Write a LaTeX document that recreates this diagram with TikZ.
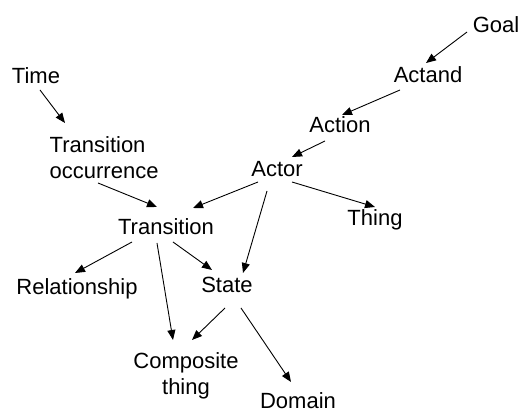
\documentclass[tikz,border=0pt]{standalone}
\usepackage{fontspec}
\setmainfont{Liberation Sans}
\usetikzlibrary{arrows.meta,calc}
\begin{document}
\begin{tikzpicture}[x=1pt,y=-1pt,
  lbl/.style={inner sep=0pt, font=\fontsize{22}{26}\selectfont},
  arr/.style={draw=black, line width=0.9pt, -{Triangle[length=10pt,width=8pt]}}]
\useasboundingbox (0,0) rectangle (520,411);
% nodes
\node[lbl,anchor=base] (goal)   at (496,33)  {Goal};
\node[lbl,anchor=base] (actand) at (428,83)  {Actand};
\node[lbl,anchor=base] (action) at (340,133) {Action};
\node[lbl,anchor=base] (actor)  at (277,177) {Actor};
\node[lbl,anchor=base] (thing)  at (375,226) {Thing};
\node[lbl,anchor=base] (time)   at (36,84)   {Time};
\node[lbl,anchor=north west,align=left] (tocc) at (49.5,136.3) {Transition\\occurrence};
\node[lbl,anchor=base] (tr)     at (166,235) {Transition};
\node[lbl,anchor=base] (rel)    at (77,295)  {Relationship};
\node[lbl,anchor=base] (state)  at (227,293) {State};
\node[lbl,anchor=north,align=center] (comp) at (186,352.3) {Composite\\thing};
\node[lbl,anchor=base] (domain) at (298,409) {Domain};
% connectors
\draw[arr] ($(goal.base)+(-29,-1)$)   -- ($(actand.base)+(-2,-20)$);
\draw[arr] ($(actand.base)+(-28,7)$)  -- ($(action.base)+(2,-18)$);
\draw[arr] ($(action.base)+(-15,8)$)  -- ($(actor.base)+(15,-20)$);
\draw[arr] ($(actor.base)+(-19,5)$)   -- ($(tr.base)+(27,-27)$);
\draw[arr] ($(tocc.north west)+(48.5,46.7)$) -- ($(tr.base)+(-9,-28)$);
\draw[arr] ($(time.base)+(4,6)$)      -- ($(tocc.north west)+(15.5,-13.3)$);
\draw[arr] ($(actor.base)+(15,5)$)    -- ($(thing.base)+(0,-19)$);
\draw[arr] ($(actor.base)+(-10,14)$)  -- ($(state.base)+(16,-20)$);
\draw[arr] ($(tr.base)+(-34,7)$)      -- ($(rel.base)+(-2,-22)$);
\draw[arr] ($(tr.base)+(7,7)$)        -- ($(state.base)+(-15,-23)$);
\draw[arr] ($(tr.base)+(-9,8)$)       -- ($(comp.north)+(-13,-12.3)$);
\draw[arr] ($(state.base)+(-2,15)$)   -- ($(comp.north)+(6,-12.3)$);
\draw[arr] ($(state.base)+(14,15)$)   -- ($(domain.base)+(-7,-27)$);
\end{tikzpicture}
\end{document}
